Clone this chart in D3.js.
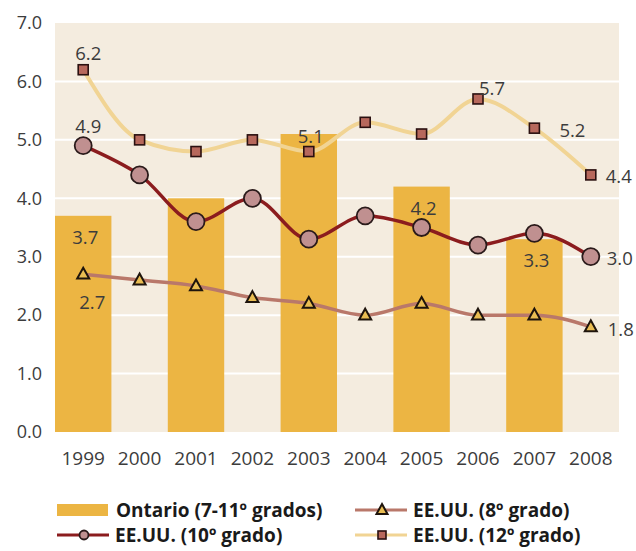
<!DOCTYPE html>
<html>
<head>
  <meta charset="utf-8">
  <script src="https://cdnjs.cloudflare.com/ajax/libs/d3/7.8.5/d3.min.js"></script>
  <style>
    body { margin: 0; background: #fff; }
    text { font-family: "Open Sans", "Noto Sans", sans-serif; }
  </style>
</head>
<body>
<div id="vis"></div>

<script>
// data
const years = [1999, 2000, 2001, 2002, 2003, 2004, 2005, 2006, 2007, 2008];
const ontarioYears = [1999, 2001, 2003, 2005, 2007];
const ontario = [3.7, 4.0, 5.1, 4.2, 3.3];
const grade8 = [2.7, 2.6, 2.5, 2.3, 2.2, 2.0, 2.2, 2.0, 2.0, 1.8];
const grade10 = [4.9, 4.4, 3.6, 4.0, 3.3, 3.7, 3.5, 3.2, 3.4, 3.0];
const grade12 = [6.2, 5.0, 4.8, 5.0, 4.8, 5.3, 5.1, 5.7, 5.2, 4.4];
const yTicks = [0, 1, 2, 3, 4, 5, 6, 7];
const legendLabels = ["Ontario (7-11º grados)", "EE.UU. (8º grado)", "EE.UU. (10º grado)", "EE.UU. (12º grado)"];

const width = 636;
const height = 551;
const plot = { left: 55, right: 619, top: 23, bottom: 432 };

const colors = {
  bg: '#f4ecdf',
  bar: '#ecb543',
  g12: '#f1d494',
  g10: '#8b1c1e',
  g8: '#b9786a',
  square: '#b7685c',
  circle: '#c09090',
  tri: '#e9bd52',
  text: '#3c3c3c'
};

const svg = d3.select('#vis')
  .append('svg')
  .attr('width', width)
  .attr('height', height);

const x = d3.scaleBand()
  .domain(years)
  .range([plot.left, plot.right]);

const y = d3.scaleLinear()
  .domain([0, 7])
  .range([plot.bottom, plot.top]);

const cx = yr => x(yr) + x.bandwidth() / 2;

// plot background + white grid
svg.append('rect')
  .attr('x', plot.left)
  .attr('y', plot.top)
  .attr('width', plot.right - plot.left)
  .attr('height', plot.bottom - plot.top)
  .attr('fill', colors.bg);

svg.selectAll('.grid')
  .data(yTicks.filter(t => t > 0 && t < 7))
  .enter()
  .append('line')
  .attr('x1', plot.left)
  .attr('x2', plot.right)
  .attr('y1', d => y(d))
  .attr('y2', d => y(d))
  .attr('stroke', '#fff')
  .attr('stroke-width', 2);

// bars
svg.selectAll('.bar')
  .data(ontario)
  .enter()
  .append('rect')
  .attr('x', (d, i) => x(ontarioYears[i]))
  .attr('y', d => y(d))
  .attr('width', x.bandwidth())
  .attr('height', d => y(0) - y(d))
  .attr('fill', colors.bar);

// axes
const yAxis = svg.append('g')
  .attr('transform', `translate(${plot.left},0)`)
  .call(d3.axisLeft(y).tickValues(yTicks).tickFormat(d3.format('.1f')).tickSize(0).tickPadding(13));

const xAxis = svg.append('g')
  .attr('transform', `translate(0,${plot.bottom})`)
  .call(d3.axisBottom(x).tickSize(0).tickPadding(20));

yAxis.selectAll('text').style('font-size', '18px');
xAxis.selectAll('text').style('font-size', '19px');
[yAxis, xAxis].forEach(a => {
  a.select('.domain').remove();
  a.selectAll('text').attr('fill', colors.text);
});

// lines
const line = d3.line()
  .x((d, i) => cx(years[i]))
  .y(d => y(d))
  .curve(d3.curveMonotoneX);

svg.append('path').datum(grade12)
  .attr('d', line).attr('fill', 'none')
  .attr('stroke', colors.g12).attr('stroke-width', 4);

svg.append('path').datum(grade10)
  .attr('d', line).attr('fill', 'none')
  .attr('stroke', colors.g10).attr('stroke-width', 3.5);

svg.append('path').datum(grade8)
  .attr('d', line).attr('fill', 'none')
  .attr('stroke', colors.g8).attr('stroke-width', 3.5);

// markers
function triangle(g, px, py, s) {
  const h = s * 0.9;
  g.append('path')
    .attr('d', `M${px},${py - h * 0.6}L${px + s / 2},${py + h * 0.4}L${px - s / 2},${py + h * 0.4}Z`)
    .attr('fill', colors.tri)
    .attr('stroke', '#1e140c')
    .attr('stroke-width', 2)
    .attr('stroke-linejoin', 'miter');
}

function square(g, px, py, s) {
  g.append('rect')
    .attr('x', px - s / 2).attr('y', py - s / 2)
    .attr('width', s).attr('height', s)
    .attr('fill', colors.square)
    .attr('stroke', '#2a1010')
    .attr('stroke-width', 1.6);
}

function circle(g, px, py, r) {
  g.append('circle')
    .attr('cx', px).attr('cy', py).attr('r', r)
    .attr('fill', colors.circle)
    .attr('stroke', '#2a1a1a')
    .attr('stroke-width', 1.8);
}

const marks = svg.append('g');
grade12.forEach((d, i) => square(marks, cx(years[i]), y(d), 10));
grade10.forEach((d, i) => circle(marks, cx(years[i]), y(d), 8.5));
grade8.forEach((d, i) => triangle(marks, cx(years[i]), y(d), 12));

// value labels
const fmt = d3.format('.1f');
const notes = [
  { v: grade12, yr: 1999, dx: 5, dy: -10, anchor: 'middle' },
  { v: grade12, yr: 2006, dx: 1, dy: -4, anchor: 'start' },
  { v: grade12, yr: 2007, dx: 25, dy: 9, anchor: 'start' },
  { v: grade12, yr: 2008, dx: 15, dy: 8, anchor: 'start' },
  { v: grade10, yr: 1999, dx: 5, dy: -13, anchor: 'middle' },
  { v: grade10, yr: 2008, dx: 16, dy: 8, anchor: 'start' },
  { v: grade8, yr: 1999, dx: 9, dy: 35, anchor: 'middle' },
  { v: grade8, yr: 2008, dx: 17, dy: 9, anchor: 'start' }
];

const labels = svg.append('g')
  .attr('fill', colors.text)
  .style('font-size', '18.5px');

notes.forEach(n => {
  const i = years.indexOf(n.yr);
  labels.append('text')
    .attr('x', cx(n.yr) + n.dx)
    .attr('y', y(n.v[i]) + n.dy)
    .attr('text-anchor', n.anchor)
    .text(fmt(n.v[i]));
});

// the 2001 bar value sits behind the circle marker in the original, so it is not printed
ontario.forEach((d, i) => {
  const yr = ontarioYears[i];
  if (yr === 2001) return;
  labels.append('text')
    .attr('x', cx(yr) + 2)
    .attr('y', y(d) + (yr === 2003 ? 9 : 28))
    .attr('text-anchor', 'middle')
    .text(fmt(d));
});

// legend
const legend = svg.append('g')
  .style('font-size', '19px')
  .style('font-weight', 700)
  .attr('fill', '#1a1a1a');

const rows = [510, 535];
const cols = [57, 355];
const items = [
  { col: 0, row: 0, kind: 'bar' },
  { col: 1, row: 0, kind: 'g8' },
  { col: 0, row: 1, kind: 'g10' },
  { col: 1, row: 1, kind: 'g12' }
];

items.forEach((it, k) => {
  const lx = cols[it.col];
  const ly = rows[it.row];
  if (it.kind === 'bar') {
    legend.append('rect')
      .attr('x', lx).attr('y', ly - 6)
      .attr('width', 51).attr('height', 12)
      .attr('fill', colors.bar);
  } else {
    legend.append('line')
      .attr('x1', lx).attr('x2', lx + 52)
      .attr('y1', ly).attr('y2', ly)
      .attr('stroke', colors[it.kind]).attr('stroke-width', 3);
    if (it.kind === 'g8') triangle(legend, lx + 27, ly, 11);
    if (it.kind === 'g10') circle(legend, lx + 27, ly, 4.5);
    if (it.kind === 'g12') square(legend, lx + 27, ly, 8);
  }
  legend.append('text')
    .attr('x', lx + (it.kind === 'bar' ? 59 : 58))
    .attr('y', ly)
    .attr('dy', '0.35em')
    .text(legendLabels[k]);
});
</script>
</body>
</html>
